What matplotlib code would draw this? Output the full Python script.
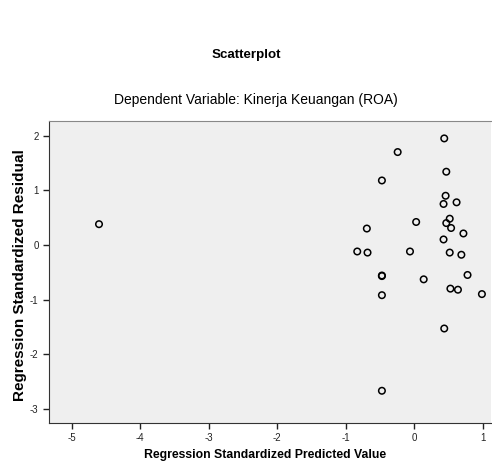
import numpy as np
import matplotlib.pyplot as plt

# valores (predito padronizado, resíduo padronizado)
pred = [-4.60, 0.44, -0.24, 0.47, -0.47, 0.46, 0.43, 0.62, 0.03, 0.52,
        0.47, 0.54, -0.69, 0.72, 0.43, -0.83, -0.68, -0.06, 0.52, 0.69,
        -0.47, -0.47, 0.14, 0.78, 0.53, 0.64, 0.99, -0.47, 0.44, -0.47]
resid = [0.38, 1.95, 1.70, 1.34, 1.18, 0.90, 0.75, 0.78, 0.42, 0.48,
         0.40, 0.31, 0.30, 0.21, 0.10, -0.12, -0.14, -0.12, -0.14, -0.18,
         -0.56, -0.57, -0.63, -0.55, -0.80, -0.82, -0.90, -0.92, -1.53, -2.67]
xticks = [-5, -4, -3, -2, -1, 0, 1]
yticks = [2, 1, 0, -1, -2, -3]

plt.rcParams['font.family'] = ['Liberation Sans', 'DejaVu Sans']
plt.rcParams['axes.unicode_minus'] = False

fig = plt.figure(figsize=(4.92, 4.72), dpi=100)
ax = fig.add_axes([0.0996, 0.1038, 0.898, 0.64])
ax.set_facecolor('#efefef')

ax.scatter(pred, resid, s=22, facecolors='none', edgecolors='black', linewidths=1.1)

ax.set_xlim(-5.33, 1.12)
ax.set_ylim(-3.26, 2.27)
ax.set_xticks(xticks)
ax.set_yticks(yticks)
ax.tick_params(labelsize=7, length=4, width=1, direction='out', colors='#222222')

ax.spines['top'].set_color('#888888')
ax.spines['right'].set_visible(False)
for s in ['left', 'bottom']:
    ax.spines[s].set_color('#333333')

ax.set_xlabel("Regression Standardized Predicted Value", fontsize=8.8, fontweight='bold')
ax.set_ylabel("Regression Standardized Residual", fontsize=11, fontweight='bold')
ax.xaxis.set_label_coords(0.489, -0.085)
ax.yaxis.set_label_coords(-0.05, 0.49)

fig.text(0.5, 1 - 55 / 472, "Scatterplot", ha='center', va='center', fontsize=9.6, fontweight='bold')
fig.text(0.521, 1 - 100 / 472, "Dependent Variable: Kinerja Keuangan (ROA)", ha='center', va='center', fontsize=10)

fig.savefig("out.png", dpi=100)
